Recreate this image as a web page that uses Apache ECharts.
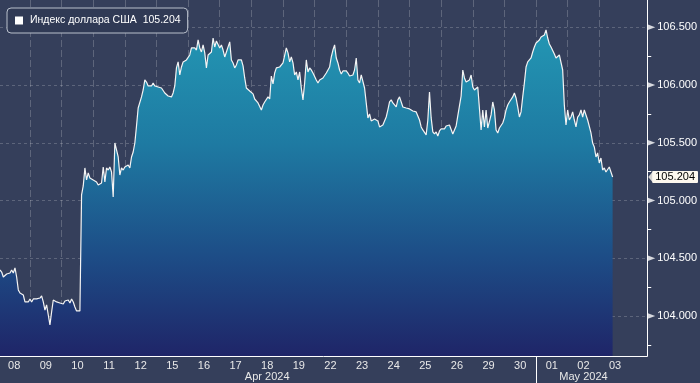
<!DOCTYPE html>
<html><head><meta charset="utf-8">
<script src="https://cdn.jsdelivr.net/npm/echarts@6/dist/echarts.min.js"></script>
<style>html,body{margin:0;padding:0;background:#353f5b}#c{width:700px;height:383px}</style>
</head><body><div id="c"></div>
<script>
const seriesName = 'Индекс доллара США';
const days = ['08','09','10','11','12','15','16','17','18','19','22','23','24','25','26','29','30','01','02','03'];
const dayMonths = ['Apr 2024','Apr 2024','Apr 2024','Apr 2024','Apr 2024','Apr 2024','Apr 2024','Apr 2024','Apr 2024','Apr 2024','Apr 2024','Apr 2024','Apr 2024','Apr 2024','Apr 2024','Apr 2024','Apr 2024','May 2024','May 2024','May 2024'];
const yMajorTicks = [104, 104.5, 105, 105.5, 106, 106.5];
const yMinorTicks = [103.75, 104.25, 104.75, 105.25, 105.75, 106.25];
// intraday samples, 19 per trading day, starting 1 step into 08 Apr
const prices = [
104.399,104.381,104.338,104.329,104.364,104.364,104.373,104.399,104.373,104.416,
104.338,104.226,104.200,104.208,104.182,104.122,104.139,104.122,104.148,104.122,
104.148,104.165,104.148,104.165,104.156,104.174,104.122,104.052,104.096,104.009,
103.923,104.035,104.139,104.156,104.122,104.139,104.113,104.122,104.104,104.130,
104.122,104.139,104.113,104.148,104.122,104.078,104.044,104.052,104.044,105.048,
105.126,105.282,105.178,105.239,105.195,105.204,105.178,105.195,105.161,105.135,
105.152,105.152,105.290,105.161,105.282,105.264,105.290,105.247,105.031,105.498,
105.438,105.377,105.221,105.282,105.264,105.290,105.282,105.308,105.282,105.377,
105.420,105.498,105.645,105.801,105.810,105.897,105.957,106.044,106.026,105.992,
106.000,105.992,106.018,105.992,105.992,105.983,105.983,105.974,105.974,105.931,
105.923,105.905,105.905,105.897,105.931,105.992,106.148,106.200,106.087,106.156,
106.200,106.208,106.217,106.226,106.260,106.321,106.338,106.321,106.303,106.390,
106.321,106.286,106.347,106.278,106.148,106.260,106.243,106.286,106.407,106.329,
106.381,106.364,106.321,106.347,106.303,106.243,106.286,106.303,106.373,106.217,
106.191,106.148,106.174,106.217,106.200,106.217,106.165,106.061,105.974,105.957,
105.948,105.948,105.923,105.879,105.862,105.845,105.836,105.784,105.827,105.853,
105.845,105.897,105.879,106.078,106.009,106.104,106.148,106.156,106.156,106.165,
106.191,106.200,106.321,106.278,106.200,106.243,106.191,106.087,106.113,106.044,
106.113,105.974,105.871,106.018,106.217,106.113,106.148,106.130,106.104,106.113,
106.044,106.018,106.044,106.044,106.061,106.061,106.104,106.113,106.156,106.243,
106.303,106.347,106.234,106.191,106.130,106.096,106.122,106.122,106.122,106.104,
106.078,106.078,106.087,106.130,106.234,106.044,106.018,106.087,106.070,105.974,
105.845,105.715,105.749,105.689,105.680,105.706,105.689,105.689,105.637,105.628,
105.654,105.671,105.723,105.784,105.853,105.871,105.845,105.853,105.810,105.871,
105.897,105.888,105.810,105.827,105.801,105.810,105.793,105.784,105.775,105.767,
105.767,105.758,105.697,105.637,105.611,105.594,105.568,105.697,105.940,105.715,
105.594,105.576,105.594,105.559,105.602,105.620,105.620,105.620,105.645,105.654,
105.654,105.663,105.576,105.576,105.645,105.732,105.819,105.905,106.130,106.061,
106.026,106.018,106.044,106.087,105.983,105.957,105.974,105.983,106.000,105.611,
105.784,105.637,105.784,105.628,105.628,105.741,105.853,105.784,105.611,105.585,
105.628,105.637,105.671,105.715,105.784,105.827,105.853,105.845,105.897,105.931,
105.888,105.810,105.723,105.767,105.897,106.018,106.156,106.200,106.191,106.234,
106.286,106.329,106.364,106.373,106.390,106.416,106.433,106.433,106.477,106.407,
106.355,106.329,106.312,106.269,106.234,106.226,106.260,106.260,106.130,105.827,
105.654,105.784,105.697,105.723,105.767,105.697,105.637,105.723,105.741,105.784,
105.723,105.784,105.767,105.697,105.697,105.585,105.498,105.464,105.377,105.412,
105.325,105.368,105.264,105.282,105.247,105.264,105.290,105.247,105.204
];

const SAMPLES_PER_DAY = 19;
const FIRST_SAMPLE = 1;
const X_MAX = 389.8;
const Y_MIN = 103.654, Y_MAX = 106.736;
const lastValue = prices[prices.length - 1];
const FONT = 'Liberation Sans, Arial, sans-serif';
const CREAM = '#fdf8ee';

const dayCenters = days.map((d, i) => i * SAMPLES_PER_DAY + SAMPLES_PER_DAY / 2);
const dayBounds = days.slice(1).map((d, i) => (i + 1) * SAMPLES_PER_DAY);
const monthGroups = [];
dayMonths.forEach((m, i) => {
  const g = monthGroups[monthGroups.length - 1];
  if (g && g.label === m) g.last = i; else monthGroups.push({label: m, first: i, last: i});
});
const monthCenters = monthGroups.map(g => Math.floor((g.first + g.last) / 2) * SAMPLES_PER_DAY + SAMPLES_PER_DAY / 2);
const monthSeps = monthGroups.slice(1).map(g => g.first * SAMPLES_PER_DAY);

const data = prices.map((v, i) => [FIRST_SAMPLE + i, v]);

const chart = echarts.init(document.getElementById('c'), null, {renderer: 'canvas'});
chart.setOption({
  animation: false,
  backgroundColor: '#353f5b',
  textStyle: {fontFamily: FONT},
  grid: {left: 0, right: 52, top: 0, bottom: 27},
  legend: {
    left: 7, top: 8, padding: [7, 7, 7, 8],
    backgroundColor: '#303a55', borderColor: '#b9c0cc', borderWidth: 1, borderRadius: 4,
    itemWidth: 8, itemHeight: 8,
    textStyle: {color: '#ffffff', fontSize: 10.5, fontFamily: FONT, padding: [0, 0, 0, 2]},
    formatter: n => n + '  ' + lastValue.toFixed(3),
    data: [{name: seriesName, icon: 'rect', itemStyle: {color: '#ffffff'}}]
  },
  xAxis: [{
    type: 'value', min: FIRST_SAMPLE, max: X_MAX, position: 'bottom', z: 3,
    axisLine: {show: true, lineStyle: {color: '#ffffff', width: 1}},
    axisTick: {show: false, customValues: dayBounds},
    axisLabel: {customValues: dayCenters, color: '#e8e8e8', fontSize: 11, fontFamily: FONT, margin: 4,
      formatter: v => days[Math.round((v - SAMPLES_PER_DAY / 2) / SAMPLES_PER_DAY)]},
    splitLine: {show: true, lineStyle: {color: 'rgba(255,255,255,0.2)', width: 1, type: [7, 3]}}
  }, {
    type: 'value', min: FIRST_SAMPLE, max: X_MAX, position: 'bottom', z: 3,
    axisLine: {show: false},
    axisTick: {show: true, customValues: monthSeps, length: 27, lineStyle: {color: '#ffffff', width: 1}},
    axisLabel: {customValues: monthCenters, color: '#e8e8e8', fontSize: 11, fontFamily: FONT, margin: 15,
      formatter: v => monthGroups[monthCenters.indexOf(v)].label},
    splitLine: {show: false}
  }],
  yAxis: [{
    type: 'value', min: Y_MIN, max: Y_MAX, position: 'right', z: 3,
    axisLine: {show: true, lineStyle: {color: '#ffffff', width: 1}},
    axisTick: {show: false, customValues: yMajorTicks},
    axisLabel: {customValues: yMajorTicks, margin: 10, color: '#ffffff', fontSize: 11, fontFamily: FONT,
      formatter: v => v.toFixed(3)},
    splitLine: {show: true, lineStyle: {color: 'rgba(255,255,255,0.2)', width: 1, type: [3, 3]}}
  }, {
    type: 'value', min: Y_MIN, max: Y_MAX, position: 'right', z: 3,
    axisLine: {show: false},
    axisTick: {show: true, customValues: yMinorTicks, length: 4, inside: false, lineStyle: {color: '#ffffff'}},
    axisLabel: {show: false},
    splitLine: {show: false}
  }],
  series: [{
    name: seriesName, type: 'line', data: data, showSymbol: false, symbol: 'none',
    xAxisIndex: 0, yAxisIndex: 0,
    lineStyle: {color: '#f4f4f4', width: 1.2},
    itemStyle: {color: '#ffffff'},
    areaStyle: {origin: 'start', opacity: 1, color: new echarts.graphic.LinearGradient(0, 0, 0, 1, [
      {offset: 0, color: '#2396b3'}, {offset: 0.35, color: '#1e7aa2'},
      {offset: 0.7, color: '#1d4c86'}, {offset: 1, color: '#1f2568'}])},
    markLine: {
      silent: true, symbol: ['none', 'none'], precision: 3,
      lineStyle: {color: 'rgba(0,0,0,0)', width: 0},
      label: {show: true, position: 'end', distance: 5, color: '#000000', fontSize: 11, fontFamily: FONT,
        backgroundColor: CREAM, padding: [1, 3, 0, 3], borderRadius: 1,
        formatter: p => Number(p.value).toFixed(3)},
      data: [{yAxis: lastValue}]
    }
  }, {
    name: 'axisArrows', type: 'scatter', xAxisIndex: 0, yAxisIndex: 0, silent: true, clip: false, z: 5,
    data: yMajorTicks.map(v => [X_MAX, v]),
    symbol: 'triangle', symbolRotate: -90, symbolSize: [6, 8], symbolOffset: [4, 0],
    itemStyle: {color: '#ffffff'}
  }, {
    name: 'lastArrow', type: 'scatter', xAxisIndex: 0, yAxisIndex: 0, silent: true, clip: false, z: 5,
    data: [[X_MAX, lastValue]],
    symbol: 'triangle', symbolRotate: 90, symbolSize: [12, 5], symbolOffset: [3.5, 0],
    itemStyle: {color: CREAM}
  }]
});
</script></body></html>
